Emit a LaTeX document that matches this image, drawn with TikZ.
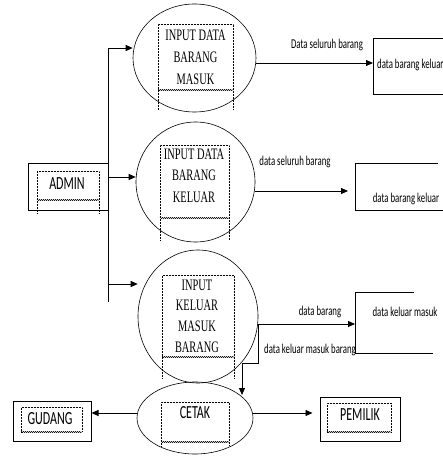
\documentclass[tikz,border=0pt]{standalone}
\usepackage{fontspec}
\setmainfont{Liberation Serif}
\newfontfamily\calib{Carlito}
\usepackage{graphicx}
\usetikzlibrary{arrows.meta,shapes.geometric,decorations.pathmorphing}
\newcommand\sq[1]{\scalebox{0.65}[1]{#1}}
\begin{document}
\begin{tikzpicture}[x=1pt,y=-1pt,
  proc/.style={ellipse, draw, line width=0.6pt, inner sep=0pt},
  arr/.style={line width=0.8pt, -{Triangle[length=7pt,width=6pt]}},
  ln/.style={line width=0.8pt},
  dots/.style={densely dotted, line width=0.5pt},
  wavy/.style={line width=0.5pt, decorate, decoration={snake, amplitude=0.6pt, segment length=2pt}},
  ttext/.style={align=center, inner sep=0pt},
  lbl/.style={font=\calib\fontsize{13.5}{15}\selectfont, inner sep=0pt},
  big/.style={font=\calib\fontsize{18.5}{20}\selectfont, inner sep=0pt},
  ent/.style={draw, line width=1pt, inner sep=0pt},
]
\clip (0,0) rectangle (443,457);
\fill[white] (0,0) rectangle (443,457);

% processes
\node[proc, minimum width=123pt, minimum height=108pt] (e1) at (194.5,58) {};
\draw[dots] (158,110) -- (158,24) -- (233,24) -- (233,110);
\draw[wavy] (158,90) -- (233,90);
\node[ttext, font=\fontsize{16}{22}\selectfont] (t1) at (195.5,57) {\sq{INPUT DATA}\\\sq{BARANG}\\\sq{MASUK}};

\node[proc, minimum width=119pt, minimum height=120pt] (e2) at (195.5,182) {};
\draw[dots] (160,240) -- (160,145) -- (229,145) -- (229,240);
\draw[wavy] (160,218) -- (229,218);
\node[ttext, font=\fontsize{16}{21.5}\selectfont] (t2) at (194,175.5) {\sq{INPUT DATA}\\\sq{BARANG}\\\sq{KELUAR}};

\node[proc, minimum width=120pt, minimum height=133pt] (e3) at (198,316.5) {};
\draw[dots] (162,378) -- (162,275) -- (234,275) -- (234,378);
\draw[wavy] (162,357) -- (234,357);
\node[ttext, font=\fontsize{16}{20.7}\selectfont] (t3) at (197,316) {\sq{INPUT}\\\sq{KELUAR}\\\sq{MASUK}\\\sq{BARANG}};

\node[proc, minimum width=116pt, minimum height=72pt] (e4) at (195,418) {};
\draw[dots] (161,446) -- (161,402) -- (229,402) -- (229,446);
\draw[wavy] (161,442) -- (229,442);
\node[big] (t4) at (195,413) {\sq{CETAK}};

% entities
\node[ent, minimum width=80pt, minimum height=47pt] (admin) at (68,186.5) {};
\draw[dots] (37,213) -- (37,171) -- (99,171) -- (99,213);
\draw[wavy] (37,200) -- (99,200);
\node[big] (admint) at (67,184) {\sq{ADMIN}};

\node[ent, minimum width=78pt, minimum height=40pt] (gud) at (52,421) {};
\draw[dots] (21,432) -- (21,407) -- (82,407) -- (82,432);
\draw[wavy] (21,432) -- (82,432);
\node[big] (gudt) at (50,419) {\sq{GUDANG}};

\node[ent, minimum width=80pt, minimum height=44pt] (pem) at (360,419) {};
\draw[dots] (327,432) -- (327,403) -- (391,403) -- (391,432);
\draw[wavy] (327,432) -- (391,432);
\node[big] (pemt) at (360,415) {\sq{PEMILIK}};

% data stores
\draw[ln] (445,38) -- (373,38) -- (373,94) -- (445,94);
\node[lbl, anchor=west] (s1t) at (377,65) {\sq{data barang keluar}};
\draw[ln] (438,163) -- (355,163) -- (355,210) -- (445,210);
\node[lbl] (s2t) at (406,199) {\sq{data barang keluar}};
\draw[ln] (414,292) -- (355,292) -- (355,353) -- (433,353);
\node[lbl] (s3t) at (405,312) {\sq{data keluar masuk}};

% admin trunk
\coordinate (a1) at (108,48);
\coordinate (a2) at (108,177);
\coordinate (a3) at (108,284);
\coordinate (aend) at (108,302);
\draw[ln] (a1) -- (aend);
\draw[arr] (a1) -- (e1.west |- a1);
\draw[arr] (a2) -- (e2.west |- a2);
\draw[arr] (a3) -- (e3.west |- a3);

% flows to stores
\coordinate (s1) at (373,63);
\coordinate (s2) at (348,191);
\coordinate (s3) at (355,324);
\draw[arr] (e1.east |- s1) -- (s1);
\draw[arr] (e2.east |- s2) -- (s2);
\draw[arr] (e3.east |- s3) -- (s3);
\node[lbl] (l1) at (327,45) {\sq{Data seluruh barang}};
\node[lbl] (l2) at (295,162) {\sq{data seluruh barang}};
\node[lbl] (l3) at (320,312) {\sq{data barang}};
\node[lbl] (l4) at (310,350) {\sq{data keluar masuk barang}};

% e3 -> e4
\coordinate (k2) at (242,363);
\coordinate (c4) at (242,395);
\draw[arr] (e3.east |- s3) |- (k2) -- (c4);

% cetak outputs
\coordinate (cy) at (0,413);
\draw[arr] (e4.west |- cy) -- (gud.east |- cy);
\draw[arr] (e4.east |- cy) -- ([xshift=-7pt]pem.west |- cy);
\end{tikzpicture}
\end{document}
